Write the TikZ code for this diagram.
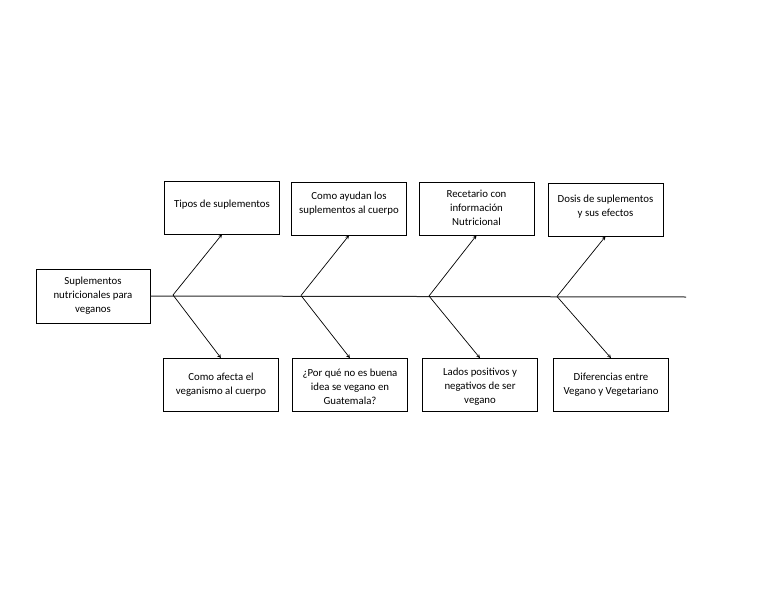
\documentclass[tikz,border=0pt]{standalone}
\usepackage{fontspec}
\setmainfont{Carlito}
\usetikzlibrary{positioning}
\tikzstyle{block} = [rectangle, minimum width=115pt, minimum height=53pt, draw=black, line width=0.8pt, inner sep=0pt]
\tikzstyle{boxtext} = [align=center, inner sep=0pt, font=\fontsize{10.8}{14}\selectfont]
\tikzstyle{arrow} = [line width=0.7pt,->,>=stealth]
\tikzstyle{spine} = [line width=1pt, black!85]

\begin{document}
\begin{tikzpicture}[x=1pt,y=-1pt]
        \useasboundingbox (0,0) rectangle (768,594);
        % main box
        \node (main) [block, minimum width=114pt, minimum height=54pt] at (93,296) {};
        \node (maintxt) [boxtext, below=8.5pt of main.north] {Suplementos\\nutricionales para\\veganos};
        % top row
        \node (t1) [block] at (222,207.5) {};
        \node (t1txt) [boxtext, below=19.5pt of t1.north] {Tipos de suplementos};
        \node (t2) [block] at (349,208.5) {};
        \node (t2txt) [boxtext, below=10.5pt of t2.north] {Como ayudan los\\suplementos al cuerpo};
        \node (t3) [block] at (476.5,208.5) {};
        \node (t3txt) [boxtext, below=8.5pt of t3.north] {Recetario con\\información\\Nutricional};
        \node (t4) [block] at (605.5,209.5) {};
        \node (t4txt) [boxtext, below=12.5pt of t4.north] {Dosis de suplementos\\y sus efectos};
        % bottom row
        \node (d1) [block] at (221,385) {};
        \node (d1txt) [boxtext, below=14.5pt of d1.north] {Como afecta el\\veganismo al cuerpo};
        \node (d2) [block] at (350,385) {};
        \node (d2txt) [boxtext, below=10.5pt of d2.north] {¿Por qué no es buena\\idea se vegano en\\Guatemala?};
        \node (d3) [block] at (480,385) {};
        \node (d3txt) [boxtext, below=9.5pt of d3.north] {Lados positivos y\\negativos de ser\\vegano};
        \node (d4) [block] at (611,385) {};
        \node (d4txt) [boxtext, below=14.5pt of d4.north] {Diferencias entre\\Vegano y Vegetariano};
        % spine and branches
        \coordinate (b1) at (173,295);
        \coordinate (b2) at (301,295.5);
        \coordinate (b3) at (429,296);
        \coordinate (b4) at (557,296.5);
        \coordinate (tail) at (686,297);
        \draw [spine] (main.east) -- (tail);
        \draw [arrow] (b1) -- (t1.south);
        \draw [arrow] (b1) -- (d1.north);
        \draw [arrow] (b2) -- (t2.south);
        \draw [arrow] (b2) -- (d2.north);
        \draw [arrow] (b3) -- (t3.south);
        \draw [arrow] (b3) -- (d3.north);
        \draw [arrow] (b4) -- (t4.south);
        \draw [arrow] (b4) -- (d4.north);
\end{tikzpicture}
\end{document}
